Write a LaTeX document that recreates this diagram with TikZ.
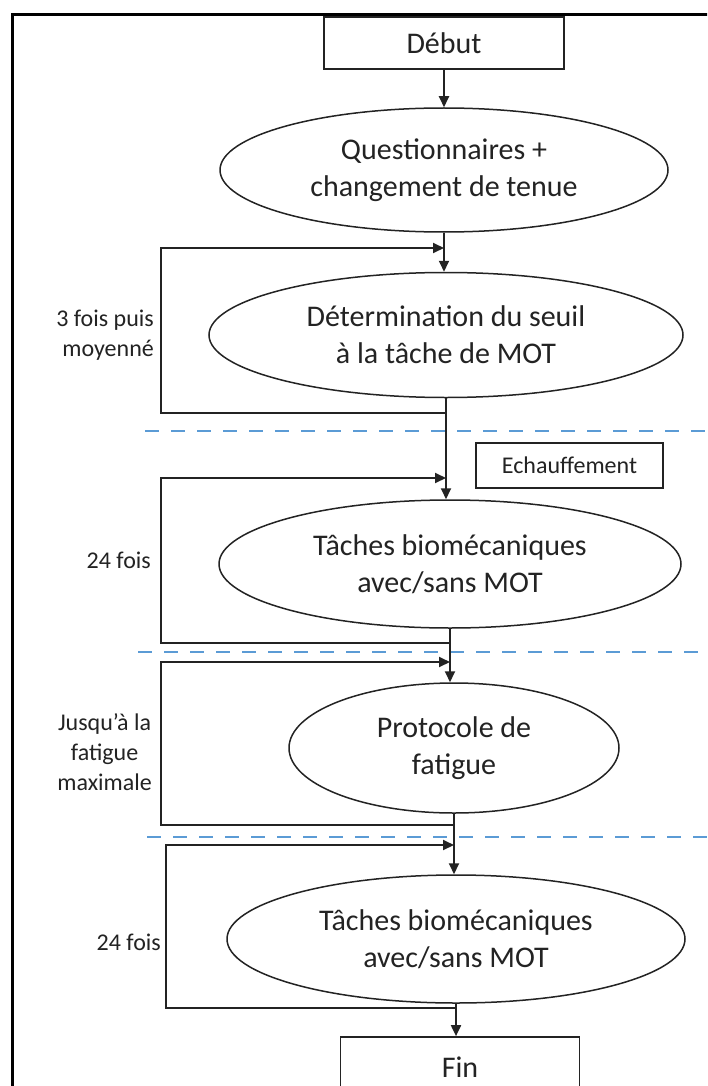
\documentclass[tikz,border=0pt]{standalone}
\usepackage{fontspec}
\setmainfont{Carlito}
\usetikzlibrary{shapes.geometric,arrows.meta}
\definecolor{sepblue}{RGB}{91,155,213}
\definecolor{ink}{RGB}{35,35,35}
\begin{document}
\begin{tikzpicture}[x=1pt,y=-1pt,
  proc/.style={draw=ink, line width=1.5pt, ellipse, inner sep=0pt, align=center,
    font=\fontsize{30}{37}\selectfont, text=ink},
  rbox/.style={draw=ink, line width=1.7pt, rectangle, inner sep=0pt, align=center,
    font=\fontsize{30}{37}\selectfont, text=ink},
  smallbox/.style={rbox, font=\fontsize{24}{30}\selectfont},
  lbl/.style={font=\fontsize{24}{30}\selectfont, inner sep=0pt, text=ink},
  link/.style={draw=ink, line width=1.9pt},
  arr/.style={link, -{Triangle[length=11pt,width=10pt]}},
  sep/.style={draw=sepblue, line width=2.8pt, dash pattern=on 14pt off 12pt},
  frame/.style={draw=black, line width=3pt}
]
\useasboundingbox (0,0) rectangle (707,1086);
\clip (0,0) rectangle (707,1086);
\fill[white] (0,0) rectangle (707,1086);

% outer frame
\draw[frame] (710,15) -- (12,15) -- (12,1090);

% separators
\draw[sep] (145,431) -- (707,431);
\draw[sep] (138,652) -- (707,652);
\draw[sep] (147,837) -- (707,837);

% nodes
\node[rbox, minimum width=240pt, minimum height=52pt] (debut) at (444,43) {Début};
\node[proc, minimum width=448pt, minimum height=124pt] (q) at (444,170) {Questionnaires +\\changement de tenue};
\node[proc, minimum width=474pt, minimum height=125pt] (det) at (446,335) {Détermination du seuil\\à la tâche de MOT};
\node[smallbox, minimum width=187pt, minimum height=45pt] (ech) at (569.5,465.5) {Echauffement};
\node[proc, minimum width=462pt, minimum height=128pt] (t1) at (450,564) {Tâches biomécaniques\\avec/sans MOT};
\node[proc, minimum width=330pt, minimum height=130pt] (p) at (454,748) {Protocole de\\fatigue};
\node[proc, minimum width=458pt, minimum height=128pt] (t2) at (456,939) {Tâches biomécaniques\\avec/sans MOT};
\node[rbox, minimum width=239pt, minimum height=60pt] (fin) at (460,1067) {Fin};

% side labels
\node[lbl, anchor=east, align=right] (l1) at (154,335) {3 fois puis\\moyenné};
\node[lbl, anchor=east] (l2) at (151,560) {24 fois};
\node[lbl, anchor=east, align=center] (l3) at (152,752) {Jusqu’à la\\fatigue\\maximale};
\node[lbl, anchor=east] (l4) at (161,942) {24 fois};

% main flow
\draw[arr] (debut.south) -- (debut.south |- q.north);
\draw[arr] (q.south) -- (q.south |- det.north);
\draw[arr] (det.south) -- (det.south |- t1.north);
\draw[arr] (t1.south) -- (t1.south |- p.north);
\draw[arr] (p.south) -- (p.south |- t2.north);
\draw[arr] (t2.south) -- (t2.south |- fin.north);

% loop coordinates
\coordinate (b1) at (det.south |- 0,413);
\coordinate (e1) at (q.south |- 0,248);
\coordinate (b2) at (t1.south |- 0,643);
\coordinate (e2) at (det.south |- 0,478);
\coordinate (b3) at (p.south |- 0,825);
\coordinate (e3) at (t1.south |- 0,662);
\coordinate (b4) at (t2.south |- 0,1008);
\coordinate (e4) at (p.south |- 0,845);

% loops
\draw[arr] (b1) -- (161,413) -- (161,248) -- (e1);
\draw[arr] (b2) -- (161,643) -- (161,478) -- (e2);
\draw[arr] (b3) -- (161,825) -- (161,662) -- (e3);
\draw[arr] (b4) -- (166,1008) -- (166,845) -- (e4);
\end{tikzpicture}
\end{document}
